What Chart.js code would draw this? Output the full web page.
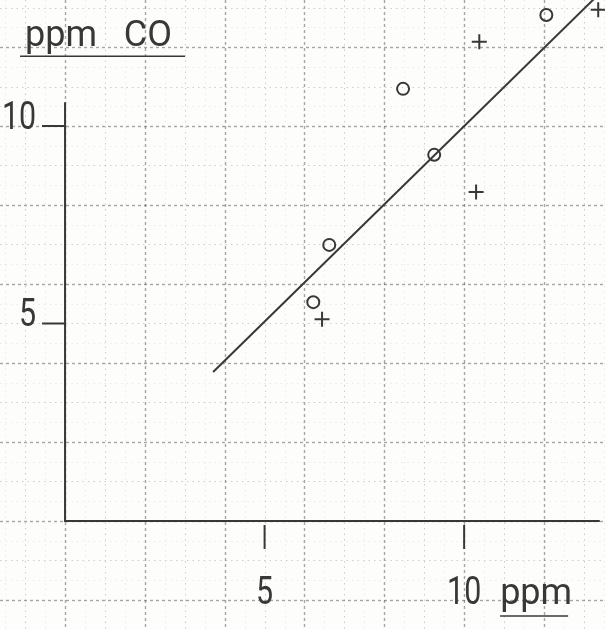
<!DOCTYPE html>
<html>
<head>
<meta charset="utf-8">
<script src="https://cdn.jsdelivr.net/npm/chart.js@4/dist/chart.umd.min.js"></script>
<style>
html,body{margin:0;padding:0;background:#fdfdfb;}
canvas{display:block;}
</style>
</head>
<body>
<canvas id="c" width="605" height="630"></canvas>
<script>
// ---- data ----
const circleX = [12.06, 8.47, 9.25, 6.62, 6.22];
const circleY = [12.81, 10.94, 9.27, 6.99, 5.54];
const crossX = [10.38, 10.30, 6.44, 13.36];
const crossY = [12.13, 8.33, 5.11, 12.94];
const fitX = [3.71, 13.4];
const fitY = [3.77, 13.36];
const xTicks = [5, 10];
const yTicks = [5, 10];
const xUnit = 'ppm';
const yUnit = 'ppm   CO';
const xAxisEnd = 13.4;
const yAxisEnd = 10.6;

const INK = '#383838';
const FONT = 'Roboto, "DejaVu Sans", sans-serif';

const pts = (xs, ys) => xs.map((x, i) => ({x, y: ys[i]}));

function txt(ctx, s, x, y, align, sq) {
  ctx.save();
  ctx.translate(x, y);
  ctx.scale(sq, 1);
  ctx.textAlign = align;
  ctx.fillText(s, 0, 0);
  const w = ctx.measureText(s).width * sq;
  ctx.restore();
  return w;
}

const paper = {
  id: 'paper',
  beforeDatasetsDraw(chart) {
    const {ctx, scales: {x, y}, chartArea: a} = chart;
    ctx.save();
    // graph-paper grid
    for (let v = -2; v <= 14; v += 0.5) {
      const major = Math.abs(v / 2 - Math.round(v / 2)) < 1e-6;
      const unit = Math.abs(v - Math.round(v)) < 1e-6;
      ctx.strokeStyle = major ? 'rgba(80,80,80,0.5)' : unit ? 'rgba(110,110,110,0.33)' : 'rgba(150,150,150,0.17)';
      ctx.lineWidth = major ? 1.4 : 1;
      ctx.setLineDash(major ? [3, 3] : [1.5, 4]);
      const px = Math.round(x.getPixelForValue(v)) + 0.5;
      ctx.beginPath(); ctx.moveTo(px, a.top); ctx.lineTo(px, a.bottom); ctx.stroke();
      const py = Math.round(y.getPixelForValue(v)) + 0.5;
      ctx.beginPath(); ctx.moveTo(a.left, py); ctx.lineTo(a.right, py); ctx.stroke();
    }
    ctx.setLineDash([]);
    // axes
    ctx.strokeStyle = INK;
    ctx.lineWidth = 2;
    const x0 = x.getPixelForValue(0), y0 = y.getPixelForValue(0);
    ctx.beginPath();
    ctx.moveTo(x0, y.getPixelForValue(yAxisEnd));
    ctx.lineTo(x0, y0);
    ctx.lineTo(x.getPixelForValue(xAxisEnd), y0);
    ctx.stroke();
    // ticks
    xTicks.forEach(t => {
      const px = x.getPixelForValue(t);
      ctx.beginPath(); ctx.moveTo(px, y0 + 4); ctx.lineTo(px, y0 + 28); ctx.stroke();
    });
    yTicks.forEach(t => {
      const py = y.getPixelForValue(t);
      ctx.beginPath(); ctx.moveTo(x0 - 23, py); ctx.lineTo(x0, py); ctx.stroke();
    });
    // labels
    ctx.fillStyle = INK;
    ctx.font = '38px ' + FONT;
    ctx.textBaseline = 'alphabetic';
    yTicks.forEach(t => {
      txt(ctx, String(t), x0 - 29, y.getPixelForValue(t) + 3, 'right', 0.8);
    });
    xTicks.forEach(t => {
      txt(ctx, String(t), x.getPixelForValue(t), y0 + 83, 'center', 0.8);
    });
    // x unit
    const xl = x.getPixelForValue(10) + 36;
    ctx.font = '36px ' + FONT;
    const w = txt(ctx, xUnit, xl, y0 + 83, 'left', 1);
    ctx.lineWidth = 1.5;
    ctx.beginPath(); ctx.moveTo(xl, y0 + 95); ctx.lineTo(xl + w - 4, y0 + 95); ctx.stroke();
    // y unit
    ctx.font = '36px ' + FONT;
    const yl = x0 - 40;
    const yb = y.getPixelForValue(yAxisEnd) - 56;
    txt(ctx, yUnit, yl, yb, 'left', 1);
    ctx.beginPath(); ctx.moveTo(yl - 5, yb + 10); ctx.lineTo(yl + 160, yb + 10); ctx.stroke();
    ctx.restore();
  }
};

new Chart(document.getElementById('c'), {
  type: 'scatter',
  data: {
    datasets: [
      {
        type: 'line',
        data: pts(fitX, fitY),
        borderColor: INK,
        borderWidth: 2,
        pointRadius: 0,
        fill: false
      },
      {
        data: pts(circleX, circleY),
        pointStyle: 'circle',
        pointRadius: 6,
        borderColor: INK,
        backgroundColor: 'rgba(0,0,0,0)',
        borderWidth: 2
      },
      {
        data: pts(crossX, crossY),
        pointStyle: 'cross',
        pointRadius: 7.5,
        borderColor: INK,
        borderWidth: 2
      }
    ]
  },
  options: {
    responsive: false,
    animation: false,
    layout: {padding: 0, autoPadding: false},
    plugins: {legend: {display: false}, tooltip: {enabled: false}},
    scales: {
      x: {type: 'linear', display: false, min: -1.63, max: 13.53},
      y: {type: 'linear', display: false, min: -2.76, max: 13.19}
    }
  },
  plugins: [paper]
});
</script>
</body>
</html>
